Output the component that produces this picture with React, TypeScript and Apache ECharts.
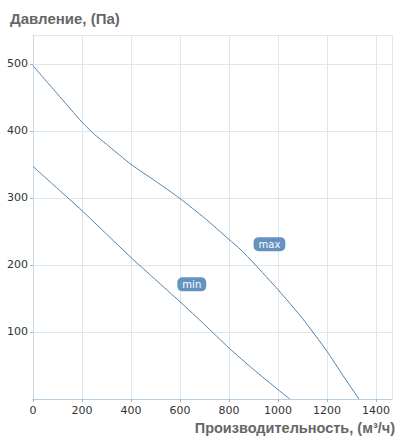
import React, { useEffect, useRef } from "react";
import * as echarts from "echarts";

const flowMax = [0, 100, 200, 250, 300, 400, 500, 600, 700, 800, 850, 900, 1000, 1100, 1200, 1265, 1330];
const pressMax = [497, 455, 413, 395, 380, 350, 325, 299, 270, 238, 222, 203, 163, 120, 71, 35, 0];
const flowMin = [0, 100, 200, 300, 400, 500, 600, 700, 800, 900, 1000, 1048];
const pressMin = [347, 314, 281, 246, 211, 178, 145, 111, 76, 44, 14, 0];
const xTicks = [0, 200, 400, 600, 800, 1000, 1200, 1400];
const yTicks = [0, 100, 200, 300, 400, 500];
const labelMax = { name: "max", flow: 965, pressure: 231 };
const labelMin = { name: "min", flow: 648, pressure: 171 };
const yTitle = "Давление, (Па)";
const xTitle = "Производительность, (м³/ч)";

const LINE = "#4f80ae";
const GRID = "#dce7ee";

export default function App() {
  const ref = useRef<HTMLDivElement>(null);
  useEffect(() => {
    const chart = echarts.init(ref.current!, null, { renderer: "svg" });
    const mk = (l: { name: string; flow: number; pressure: number }) => ({
      symbol: "circle",
      symbolSize: 0,
      silent: true,
      label: {
        show: true,
        formatter: l.name,
        color: "#fff",
        backgroundColor: "#6592bf",
        borderRadius: 5,
        padding: [2, 5, 2, 5],
        fontSize: 10,
        fontFamily: "DejaVu Sans",
        position: "inside",
      },
      data: [{ coord: [l.flow, l.pressure] }],
    });
    chart.setOption({
      animation: false,
      grid: { left: 33, right: 11, top: 35, bottom: 42, containLabel: false },
      xAxis: {
        type: "value",
        min: 0,
        max: 1465,
        interval: 200,
        axisLine: { show: true, lineStyle: { color: "#b9cde0", width: 1 } },
        axisTick: { show: true, length: 3, lineStyle: { color: "#9ab5cf" } },
        axisLabel: {
          showMaxLabel: false,
          color: "#333",
          fontSize: 11,
          fontFamily: "DejaVu Sans",
          margin: 6,
          formatter: (v: number) => (xTicks.includes(v) ? String(v) : ""),
        },
        splitLine: { show: true, lineStyle: { color: GRID, width: 1 } },
      },
      yAxis: {
        type: "value",
        min: 0,
        max: 543,
        interval: 100,
        axisLine: { show: true, lineStyle: { color: "#c8d8e6", width: 1 } },
        axisTick: { show: true, length: 3, lineStyle: { color: "#9ab5cf" } },
        axisLabel: {
          showMaxLabel: false,
          showMinLabel: false,
          color: "#333",
          fontSize: 11,
          fontFamily: "DejaVu Sans",
          margin: 5,
          formatter: (v: number) => (yTicks.includes(v) && v > 0 ? String(v) : ""),
        },
        splitLine: { show: true, lineStyle: { color: GRID, width: 1 } },
      },
      graphic: [
        {
          type: "text",
          left: 10,
          top: 11,
          style: {
            text: yTitle,
            fill: "#666",
            font: "bold 15px 'Liberation Sans', Arial, sans-serif",
          },
        },
        {
          type: "text",
          right: 8,
          top: 420,
          style: {
            text: xTitle,
            fill: "#666",
            font: "bold 14.5px 'Liberation Sans', Arial, sans-serif",
          },
        },
      ],
      series: [
        {
          type: "line",
          data: flowMax.map((f, i) => [f, pressMax[i]]),
          showSymbol: false,
          smooth: 0.2,
          lineStyle: { color: LINE, width: 1 },
          itemStyle: { color: LINE },
          markPoint: mk(labelMax),
        },
        {
          type: "line",
          data: flowMin.map((f, i) => [f, pressMin[i]]),
          showSymbol: false,
          smooth: 0.2,
          lineStyle: { color: LINE, width: 1 },
          itemStyle: { color: LINE },
          markPoint: mk(labelMin),
        },
      ],
    });
    return () => chart.dispose();
  }, []);
  return (
    <div
      ref={ref}
      style={{ position: "fixed", left: 0, top: 0, width: 403, height: 441, background: "#fff" }}
    />
  );
}
